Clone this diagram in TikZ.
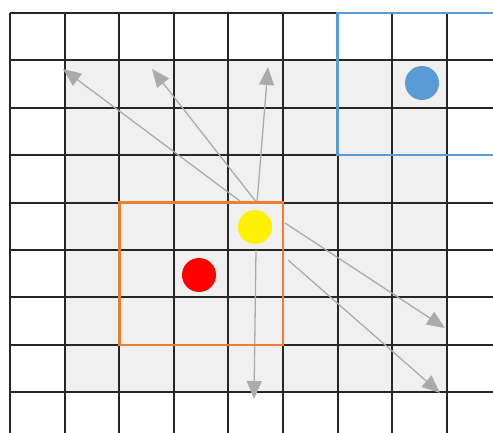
\documentclass[tikz,border=0pt]{standalone}
\usepackage{xcolor}
\usepackage{tikz}
\usetikzlibrary{arrows.meta}

\definecolor{cellgray}{HTML}{F0F0F0}
\definecolor{boxorange}{HTML}{ED7D31}
\definecolor{boxblue}{HTML}{5B9BD5}
\definecolor{movegray}{HTML}{ABABAB}

\begin{document}
\begin{tikzpicture}[x=1pt, y=-1pt,
    dot/.style={circle, minimum size=34pt, inner sep=0pt},
    gridline/.style={line width=2pt, black!85},
    move/.style={draw=movegray, line width=1.3pt, -{Triangle[length=18pt, width=15pt]}}]
    \clip (0,0) rectangle (493,433);
    \fill[white] (0,0) rectangle (493,433);
    \fill[cellgray] (64.6,60.4) rectangle (446.8,392.2);
    % grid
    \foreach \i in {0,...,8} {
        \draw[gridline] ({10+54.6*\i},13) -- ({10+54.6*\i},433);
        \draw[gridline] (10,{13+47.4*\i}) -- (493,{13+47.4*\i});
    }

    % moves
    \coordinate (s1) at (240,201);
    \coordinate (s2) at (257,203);
    \coordinate (s3) at (257,203);
    \coordinate (s4) at (285,223);
    \coordinate (s5) at (288,260);
    \coordinate (s6) at (256,250);
    \coordinate (t1) at (63,69);
    \coordinate (t2) at (152,69);
    \coordinate (t3) at (268,67);
    \coordinate (t4) at (445,328);
    \coordinate (t5) at (440,393);
    \coordinate (t6) at (254,399);
    \draw[move] (s1) -- (t1);
    \draw[move] (s2) -- (t2);
    \draw[move] (s3) -- (t3);
    \draw[move] (s4) -- (t4);
    \draw[move] (s5) -- (t5);
    \draw[move] (s6) -- (t6);

    % boxes
    \draw[boxorange, line width=2.6pt] (119.2,202.6) rectangle (283,344.8);
    \draw[boxblue, line width=2.6pt] (337.6,13) rectangle (510,155.2);

    \node[dot, fill=yellow] (agent) at (255,227) {};
    \node[dot, fill=red] (target) at (199,275) {};
    \node[dot, fill=boxblue] (goal) at (422,83) {};
\end{tikzpicture}
\end{document}
